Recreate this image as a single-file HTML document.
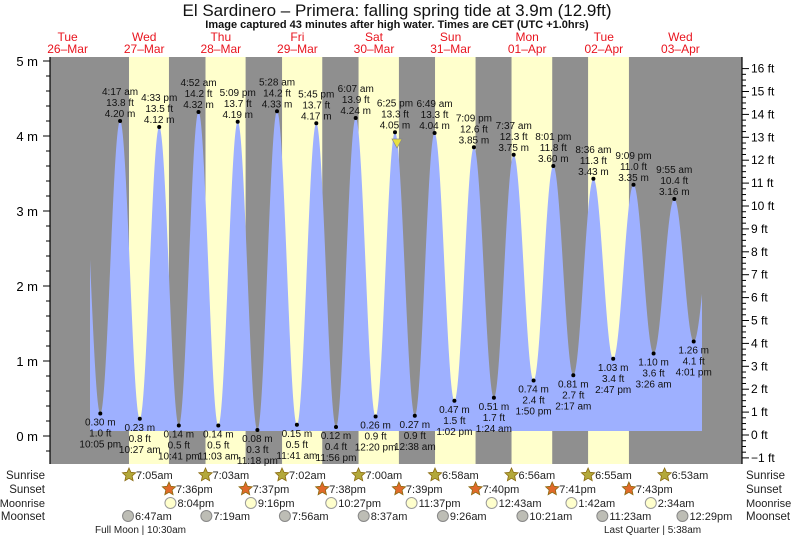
<!DOCTYPE html>
<html><head><meta charset="utf-8"><style>
html,body{margin:0;padding:0;background:#fff;}
svg{display:block;font-family:"Liberation Sans",sans-serif;}
</style></head><body>
<svg id="s" width="793" height="537" xmlns="http://www.w3.org/2000/svg"></svg>
<script>
var S=document.getElementById('s');
var h='';
var X0=106.4,D=76.6;
function X(t){return X0+t/24*D;}
function Y(m){return 436-m*75;}
var L=50,R=742,T=57,B=464;
h+='<rect x="'+L+'" y="'+T+'" width="'+(R-L)+'" height="'+(B-T)+'" fill="#8f8f8f"/>';
var sr=[7+5/60,7+3/60,7+2/60,7,6+58/60,6+56/60,6+55/60,6+53/60];
var ss=[19+36/60,19+37/60,19+38/60,19+39/60,19+40/60,19+41/60,19+43/60];
for(var d=0;d<7;d++){var a=X(d*24+sr[d]),b=X(d*24+ss[d]);h+='<rect x="'+a+'" y="'+T+'" width="'+(b-a)+'" height="'+(B-T)+'" fill="#ffffcc"/>';}
var E=[[-8.1,4.15],[-1.917,.30],[4.283,4.20],[10.45,.23],[16.55,4.12],[22.683,.14],[28.867,4.32],[35.05,.14],[41.15,4.19],[47.3,.08],[53.467,4.33],[59.683,.15],[65.75,4.17],[71.933,.12],[78.117,4.24],[84.333,.26],[90.417,4.05],[96.633,.27],[102.817,4.04],[109.033,.47],[115.15,3.85],[121.4,.51],[127.617,3.75],[133.833,.74],[140.017,3.60],[146.283,.81],[152.6,3.43],[158.783,1.03],[165.15,3.35],[171.433,1.10],[177.917,3.16],[184.017,1.26],[190.3,3.0]];
function H(t){for(var i=0;i<E.length-1;i++){if(t>=E[i][0]&&t<=E[i+1][0]){var f=(t-E[i][0])/(E[i+1][0]-E[i][0]);return E[i][1]+(E[i+1][1]-E[i][1])*(1-Math.cos(Math.PI*f))/2;}}return 2;}
var t0=(90-X0)/D*24,t1=(702-X0)/D*24;
var p='M90,431';
for(var t=t0;t<=t1;t+=0.1){p+=' L'+X(t).toFixed(2)+','+Y(H(t)).toFixed(2);}
p+=' L702,'+Y(H(t1)).toFixed(2)+' L702,431 Z';
h+='<path d="'+p+'" fill="#9eb0ff"/>';
var lab=[
[-1.917,.30,'1.0 ft','10:05 pm'],[4.283,4.20,'13.8 ft','4:17 am'],[10.45,.23,'0.8 ft','10:27 am'],[16.55,4.12,'13.5 ft','4:33 pm'],
[22.683,.14,'0.5 ft','10:41 pm'],[28.867,4.32,'14.2 ft','4:52 am'],[35.05,.14,'0.5 ft','11:03 am'],[41.15,4.19,'13.7 ft','5:09 pm'],
[47.3,.08,'0.3 ft','11:18 pm'],[53.467,4.33,'14.2 ft','5:28 am'],[59.683,.15,'0.5 ft','11:41 am'],[65.75,4.17,'13.7 ft','5:45 pm'],
[71.933,.12,'0.4 ft','11:56 pm'],[78.117,4.24,'13.9 ft','6:07 am'],[84.333,.26,'0.9 ft','12:20 pm'],[90.417,4.05,'13.3 ft','6:25 pm'],
[96.633,.27,'0.9 ft','12:38 am'],[102.817,4.04,'13.3 ft','6:49 am'],[109.033,.47,'1.5 ft','1:02 pm'],[115.15,3.85,'12.6 ft','7:09 pm'],
[121.4,.51,'1.7 ft','1:24 am'],[127.617,3.75,'12.3 ft','7:37 am'],[133.833,.74,'2.4 ft','1:50 pm'],[140.017,3.60,'11.8 ft','8:01 pm'],
[146.283,.81,'2.7 ft','2:17 am'],[152.6,3.43,'11.3 ft','8:36 am'],[158.783,1.03,'3.4 ft','2:47 pm'],[165.15,3.35,'11.0 ft','9:09 pm'],
[171.433,1.10,'3.6 ft','3:26 am'],[177.917,3.16,'10.4 ft','9:55 am'],[184.017,1.26,'4.1 ft','4:01 pm']];
var tx='';
lab.forEach(function(l,i){var x=X(l[0]),y=Y(l[1]),hi=l[1]>2;
 h+='<circle cx="'+x.toFixed(1)+'" cy="'+y.toFixed(1)+'" r="2" fill="#000"/>';
 var m=l[1].toFixed(2)+' m';
 if(hi){tx+='<text x="'+x+'" y="'+(y-4)+'">'+m+'</text><text x="'+x+'" y="'+(y-15)+'">'+l[2]+'</text><text x="'+x+'" y="'+(y-26)+'">'+l[3]+'</text>';}
 else{tx+='<text x="'+x+'" y="'+(y+12)+'">'+m+'</text><text x="'+x+'" y="'+(y+23)+'">'+l[2]+'</text><text x="'+x+'" y="'+(y+34)+'">'+l[3]+'</text>';}
});
h+='<g font-size="10" fill="#111" text-anchor="middle">'+tx+'</g>';
h+='<polygon points="392,139 402,139 397,148" fill="#e8e040" stroke="#888" stroke-width="0.7"/>';
h+='<line x1="'+L+'" y1="'+T+'" x2="'+L+'" y2="'+B+'" stroke="#000" stroke-width="1.2"/>';
h+='<line x1="'+R+'" y1="'+T+'" x2="'+R+'" y2="'+B+'" stroke="#000" stroke-width="1.2"/>';
var ax='';
for(var v=-0.4;v<=5.01;v+=0.2){var y=Y(v);if(y<T-1||y>B)continue;var maj=Math.abs(v-Math.round(v))<0.01;ax+='<line x1="'+(maj?43:46)+'" y1="'+y+'" x2="'+L+'" y2="'+y+'" stroke="#000"/>';if(maj)ax+='<text x="38" y="'+(y+5)+'" text-anchor="end" font-size="13">'+Math.round(v)+' m</text>';}
for(var f=-1;f<=16;f++){var y=435-f*22.9;ax+='<line x1="'+R+'" y1="'+y+'" x2="'+(R+7)+'" y2="'+y+'" stroke="#000"/>';ax+='<text x="'+(R+9)+'" y="'+(y+4)+'" font-size="12">'+(f<0?'\u22121':f)+' ft</text>';
 if(f<16){for(var k=1;k<4;k++){var yy=y-k*22.9/4;ax+='<line x1="'+R+'" y1="'+yy+'" x2="'+(R+4)+'" y2="'+yy+'" stroke="#000"/>';}}}
h+=ax;
h+='<text x="397" y="16" text-anchor="middle" font-size="17" fill="#111">El Sardinero \u2013 Primera: falling  spring tide at 3.9m (12.9ft)</text>';
h+='<text x="397" y="28" text-anchor="middle" font-size="11" font-weight="bold" fill="#111">Image captured 43 minutes after high water. Times are CET (UTC +1.0hrs)</text>';
var days=[['Tue','26\u2013Mar'],['Wed','27\u2013Mar'],['Thu','28\u2013Mar'],['Fri','29\u2013Mar'],['Sat','30\u2013Mar'],['Sun','31\u2013Mar'],['Mon','01\u2013Apr'],['Tue','02\u2013Apr'],['Wed','03\u2013Apr']];
days.forEach(function(d,i){var x=X((i-1)*24+12)-0.5;h+='<text x="'+x+'" y="41" text-anchor="middle" font-size="12" fill="#e8141e">'+d[0]+'</text><text x="'+x+'" y="53" text-anchor="middle" font-size="12" fill="#e8141e">'+d[1]+'</text>';});
var rows=['Sunrise','Sunset','Moonrise','Moonset'],ry=[475,489,503,516],fs=[11.5,11.5,11,11.5];
rows.forEach(function(r,i){h+='<text x="45" y="'+(ry[i]+4)+'" text-anchor="end" font-size="'+fs[i]+'" fill="#222">'+r+'</text><text x="746" y="'+(ry[i]+4)+'" font-size="'+fs[i]+'" fill="#222">'+r+'</text>';});
function star(cx,cy,fill){var pts='';for(var k=0;k<10;k++){var a=-Math.PI/2+k*Math.PI/5,rr=k%2?3.3:7;pts+=(cx+rr*Math.cos(a)).toFixed(1)+','+(cy+rr*Math.sin(a)).toFixed(1)+' ';}return '<polygon points="'+pts+'" fill="'+fill+'" stroke="#8a6a10" stroke-width="0.8"/>';}
var srt=['7:05am','7:03am','7:02am','7:00am','6:58am','6:56am','6:55am','6:53am'];
sr.forEach(function(t,i){var x=X(i*24+t);h+=star(x,ry[0],'#b3a83a')+'<text x="'+(x+7)+'" y="'+(ry[0]+4)+'" font-size="11" fill="#222">'+srt[i]+'</text>';});
var sst=['7:36pm','7:37pm','7:38pm','7:39pm','7:40pm','7:41pm','7:43pm'];
ss.forEach(function(t,i){var x=X(i*24+t);h+=star(x,ry[1],'#e06a2a')+'<text x="'+(x+7)+'" y="'+(ry[1]+4)+'" font-size="11" fill="#222">'+sst[i]+'</text>';});
var mr=[[20+4/60,'8:04pm'],[24+21+16/60,'9:16pm'],[48+22+27/60,'10:27pm'],[72+23+37/60,'11:37pm'],[120+43/60,'12:43am'],[144+1+42/60,'1:42am'],[168+2+34/60,'2:34am']];
mr.forEach(function(m){var x=X(m[0]);h+='<circle cx="'+x+'" cy="'+ry[2]+'" r="5.5" fill="#ffffcc" stroke="#999"/><text x="'+(x+7)+'" y="'+(ry[2]+4)+'" font-size="11" fill="#222">'+m[1]+'</text>';});
var ms=[[6+47/60,'6:47am'],[24+7+19/60,'7:19am'],[48+7+56/60,'7:56am'],[72+8+37/60,'8:37am'],[96+9+26/60,'9:26am'],[120+10+21/60,'10:21am'],[144+11+23/60,'11:23am'],[168+12+29/60,'12:29pm']];
ms.forEach(function(m){var x=X(m[0]);h+='<circle cx="'+x+'" cy="'+ry[3]+'" r="5.5" fill="#bdbdb5" stroke="#888"/><text x="'+(x+7)+'" y="'+(ry[3]+4)+'" font-size="11" fill="#222">'+m[1]+'</text>';});
h+='<text x="95" y="533" font-size="10" fill="#222">Full Moon | 10:30am</text>';
h+='<text x="604" y="533" font-size="10" fill="#222">Last Quarter | 5:38am</text>';
S.innerHTML=h;
</script>
</body></html>
